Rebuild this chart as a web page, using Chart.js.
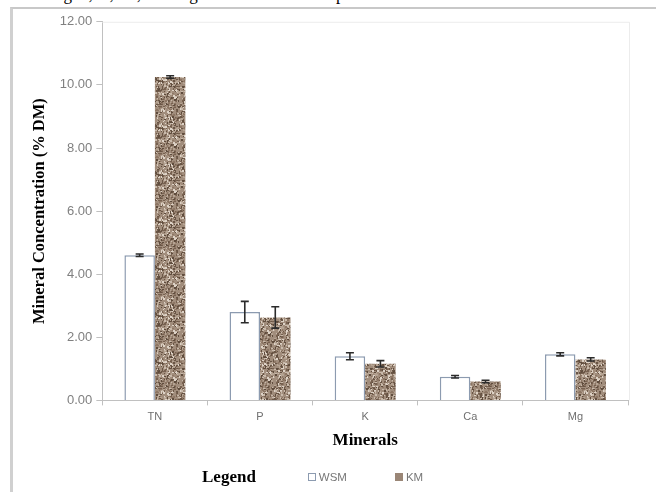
<!DOCTYPE html>
<html>
<head>
<meta charset="utf-8">
<script src="https://cdn.jsdelivr.net/npm/chart.js@4.4.0/dist/chart.umd.min.js"></script>
<style>
  body { margin: 0; width: 656px; height: 492px; background: #fff; overflow: hidden; position: relative; }
  #caption { position: absolute; left: 12px; top: -15px; font-family: "Liberation Serif", serif; font-size: 17px; line-height: 20px; color: #000; white-space: nowrap; }
  #frame { position: absolute; left: 10px; top: 7px; width: 660px; height: 500px; border-left: 3px solid #d0d0d0; border-top: 2px solid #c8c8c8; }
  #box { position: absolute; left: 14px; top: 10px; width: 642px; height: 482px; }
  #legend { position: absolute; left: 202px; top: 467px; font-size: 11.5px; color: #777; font-family: "Liberation Sans", sans-serif; display: flex; align-items: center; }
  #legend .title { font-family: "Liberation Serif", serif; font-weight: bold; font-size: 17px; color: #000; margin-right: 52px; }
  #legend .item { display: flex; align-items: center; margin-right: 48px; }
  #legend .sw { width: 8px; height: 8px; margin-right: 3px; box-sizing: border-box; }
</style>
</head>
<body>
<div id="caption">affecting N, K, Ca, and Mg contents of the leaf product</div>
<div id="frame"></div>
<div id="box"><canvas id="chart" width="642" height="482"></canvas></div>
<div id="legend"><span class="title">Legend</span></div>

<script>
// data
const minerals = ["TN", "P", "K", "Ca", "Mg"];
const wsmValues = [4.60, 2.80, 1.40, 0.75, 1.46];
const wsmErrors = [0.04, 0.34, 0.11, 0.04, 0.05];
const kmValues = [10.25, 2.63, 1.16, 0.60, 1.30];
const kmErrors = [0.04, 0.34, 0.10, 0.04, 0.05];
const yTicks = [0, 2, 4, 6, 8, 10, 12];

// speckled brown fill for KM bars
function makeGranite() {
  const n = 47;
  const c = document.createElement("canvas");
  c.width = n;
  c.height = n;
  const g = c.getContext("2d");
  g.fillStyle = "#a18d7c";
  g.fillRect(0, 0, n, n);
  const cols = ["#5f4c3d", "#776150", "#c9baab", "#ddd2c6", "#8d7664", "#b5a392", "#6a5646"];
  let s = 12345;
  const rnd = () => { s = (s * 16807) % 2147483647; return s / 2147483647; };
  for (let i = 0; i < 900; i++) {
    const x = Math.floor(rnd() * n);
    const y = Math.floor(rnd() * n);
    g.fillStyle = cols[Math.floor(rnd() * cols.length)];
    g.fillRect(x, y, rnd() < 0.5 ? 1 : 2, rnd() < 0.6 ? 1 : 2);
  }
  return g.createPattern(c, "repeat");
}

const errorBars = {
  id: "errorBars",
  afterDatasetsDraw(chart) {
    const ctx = chart.ctx;
    const yScale = chart.scales.y;
    const errs = [wsmErrors, kmErrors];
    ctx.save();
    ctx.strokeStyle = "#2b2b2b";
    ctx.lineWidth = 1.6;
    chart.data.datasets.forEach((ds, i) => {
      chart.getDatasetMeta(i).data.forEach((bar, j) => {
        const v = ds.data[j];
        const top = yScale.getPixelForValue(v + errs[i][j]);
        const bot = yScale.getPixelForValue(v - errs[i][j]);
        ctx.beginPath();
        ctx.moveTo(bar.x, top);
        ctx.lineTo(bar.x, bot);
        ctx.moveTo(bar.x - 4, top);
        ctx.lineTo(bar.x + 4, top);
        ctx.moveTo(bar.x - 4, bot);
        ctx.lineTo(bar.x + 4, bot);
        ctx.stroke();
      });
    });
    ctx.restore();
  }
};

// faint plot area border like Excel
const plotBorder = {
  id: "plotBorder",
  beforeDatasetsDraw(chart) {
    const a = chart.chartArea;
    const ctx = chart.ctx;
    ctx.save();
    ctx.strokeStyle = "#ececec";
    ctx.lineWidth = 1;
    ctx.beginPath();
    ctx.moveTo(a.left, a.top + 0.5);
    ctx.lineTo(a.right + 1.5, a.top + 0.5);
    ctx.lineTo(a.right + 1.5, a.bottom);
    ctx.stroke();
    ctx.restore();
  }
};

document.addEventListener("DOMContentLoaded", function () {
  const chart = new Chart(document.getElementById("chart"), {
    type: "bar",
    data: {
      labels: minerals,
      datasets: [
        {
          label: "WSM",
          data: wsmValues,
          backgroundColor: "#ffffff",
          borderColor: "#8c9bb0",
          borderWidth: 1.5,
          categoryPercentage: 0.58,
          barPercentage: 1.0
        },
        {
          label: "KM",
          data: kmValues,
          backgroundColor: makeGranite(),
          borderColor: "#a08c7b",
          borderWidth: 0,
          categoryPercentage: 0.58,
          barPercentage: 1.0
        }
      ]
    },
    options: {
      responsive: false,
      animation: false,
      layout: { padding: { top: 9, right: 28, bottom: 37, left: 12 } },
      plugins: {
        legend: { display: false },
        tooltip: { enabled: false }
      },
      scales: {
        x: {
          offset: true,
          grid: { offset: true, drawOnChartArea: false, drawTicks: true, tickLength: 5, color: "#c0c0c0" },
          border: { color: "#c0c0c0" },
          ticks: { color: "#707070", font: { family: "Liberation Sans", size: 11 }, padding: 5 },
          title: {
            display: true,
            text: "Minerals",
            color: "#000",
            font: { family: "Liberation Serif", size: 17, weight: "bold" },
            padding: { top: 2 }
          }
        },
        y: {
          min: 0,
          max: 12,
          afterBuildTicks: function (axis) {
            axis.ticks = yTicks.map(v => ({ value: v }));
          },
          grid: { drawOnChartArea: false, drawTicks: true, tickLength: 6, color: "#c0c0c0" },
          border: { color: "#c0c0c0" },
          ticks: {
            color: "#808080",
            font: { family: "Liberation Sans", size: 13 },
            padding: 4,
            callback: v => v.toFixed(2)
          },
          title: {
            display: true,
            text: "Mineral Concentration (% DM)",
            color: "#000",
            font: { family: "Liberation Serif", size: 16.5, weight: "bold" },
            padding: { bottom: 6 }
          }
        }
      }
    },
    plugins: [plotBorder, errorBars]
  });

  // html legend, built from the datasets
  const legend = document.getElementById("legend");
  chart.data.datasets.forEach(ds => {
    const item = document.createElement("span");
    item.className = "item";
    const sw = document.createElement("span");
    sw.className = "sw";
    if (ds.label === "WSM") {
      sw.style.border = "1px solid #8c9bb0";
      sw.style.background = "#fff";
    } else {
      sw.style.background = "#9a8676";
    }
    item.appendChild(sw);
    item.appendChild(document.createTextNode(ds.label));
    legend.appendChild(item);
  });
});
</script>
</body>
</html>
